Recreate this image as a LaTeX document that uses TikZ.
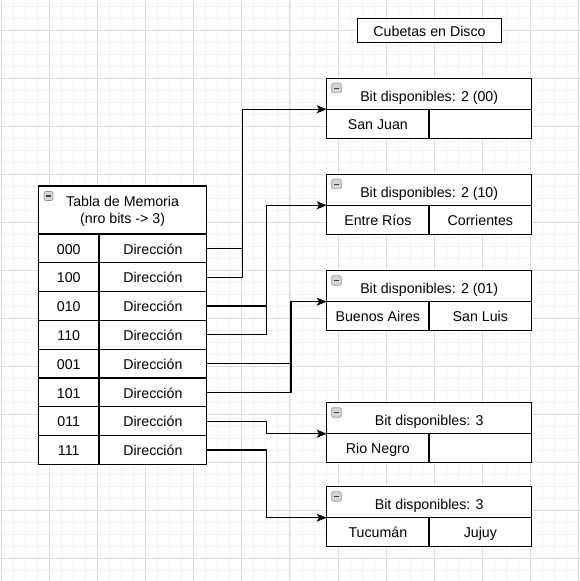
\documentclass[tikz,border=0pt]{standalone}
\usepackage{fontspec}
\setmainfont{Liberation Sans}
\usetikzlibrary{arrows.meta,calc}
\definecolor{gminor}{RGB}{243,243,243}
\definecolor{gmajor}{RGB}{220,220,220}
\definecolor{iconfill}{RGB}{214,214,214}
\definecolor{iconedge}{RGB}{150,150,150}
\begin{document}
\begin{tikzpicture}[x=1pt,y=-1pt,
  cell/.style={draw=black, fill=white, line width=1.1pt, inner sep=0pt, outer sep=0pt,
    anchor=north west, font=\fontsize{14.2}{16.6}\selectfont, align=center},
  celltext/.style={text height=11.5pt, text depth=0pt},
  headtext/.style={text height=15.4pt, text depth=0pt},
  conn/.style={draw=black, line width=1.05pt},
  arr/.style={conn, -{Stealth[length=10pt,width=8pt,inset=2.5pt]}},
  minorline/.style={draw=gminor, line width=0.8pt},
  majorline/.style={draw=gmajor, line width=0.9pt},
  iconbox/.style={draw=iconedge, fill=iconfill, line width=0.6pt, rounded corners=1.2pt},
  iconbar/.style={draw=black!75, line width=1.1pt}
]
\useasboundingbox (0,0) rectangle (580,581);
\fill[white] (0,0) rectangle (580,581);
% grid
\foreach \k in {0,...,48} {\pgfmathsetmacro\xx{1+12.0375*\k}\draw[minorline] (\xx,0) -- (\xx,581);}
\foreach \k in {-2,...,45} {\pgfmathsetmacro\yy{30+12.0125*\k}\draw[minorline] (0,\yy) -- (580,\yy);}
\foreach \k in {0,...,12} {\pgfmathsetmacro\xx{1+48.15*\k}\draw[majorline] (\xx,0) -- (\xx,581);}
\foreach \k in {0,...,11} {\pgfmathsetmacro\yy{30+48.05*\k}\draw[majorline] (0,\yy) -- (580,\yy);}

% title box
\node[cell, celltext, minimum width=144.4, minimum height=24] (cub) at (357.3,18.3) {Cubetas en Disco};

% memory table
\node[cell, minimum width=168.2, minimum height=48] (th) at (38.5,186) {\rule{0pt}{13pt}Tabla de Memoria\\(nro bits -> 3)};
\draw[iconbox] ($(th.north west)+(5.5,5.5)$) rectangle ++(9,9);
\draw[iconbar] ($(th.north west)+(7.5,10)$) -- ++(5,0);
\foreach \kk [count=\i from 0] in {000,100,010,110,001,101,011,111} {
  \node[cell, celltext, minimum width=60.5, minimum height=28.8] (k\i) at (38.5,{234+28.8*\i}) {\kk};
  \node[cell, celltext, minimum width=107.7, minimum height=28.8] (v\i) at (99,{234+28.8*\i}) {Dirección};
}

% buckets
\foreach \t/\h/\a/\b [count=\j] in {
  78.3/{Bit disponibles: 2 (00)}/{San Juan}/{},
  174.3/{Bit disponibles: 2 (10)}/{Entre Ríos}/{Corrientes},
  270.7/{Bit disponibles: 2 (01)}/{Buenos Aires}/{San Luis},
  402.7/{Bit disponibles: 3}/{Rio Negro}/{},
  486.7/{Bit disponibles: 3}/{Tucumán}/{Jujuy}} {
  \node[cell, headtext, minimum width=205, minimum height=31] (bh\j) at (326.7,\t) {\h};
  \node[cell, celltext, minimum width=102.3, minimum height=29] (ba\j) at (326.7,{\t+31}) {\a};
  \node[cell, celltext, minimum width=102.7, minimum height=29] (bb\j) at (429,{\t+31}) {\b};
  \draw[iconbox] ($(bh\j.north west)+(5,5)$) rectangle ++(9.5,9.5);
  \draw[iconbar] ($(bh\j.north west)+(7.2,9.75)$) -- ++(5.1,0);
}

% connectors
\coordinate (xA) at (242.3,0);
\coordinate (xB) at (266.7,0);
\coordinate (xC) at (291,0);
\draw[arr] (v0.east) -| (xA |- bh1.south west) -- (bh1.south west);
\draw[conn] (v1.east) -| (xA |- v0.east);
\draw[arr] (v2.east) -| (xB |- bh2.south west) -- (bh2.south west);
\draw[conn] (v3.east) -| (xB |- v2.east);
\draw[arr] (v4.east) -| (xC |- bh3.south west) -- (bh3.south west);
\draw[conn] (v5.east) -| (xC |- v4.east);
\draw[arr] (v6.east) -| (xB |- bh4.south west) -- (bh4.south west);
\draw[arr] (v7.east) -| (xB |- bh5.south west) -- (bh5.south west);
\end{tikzpicture}
\end{document}
